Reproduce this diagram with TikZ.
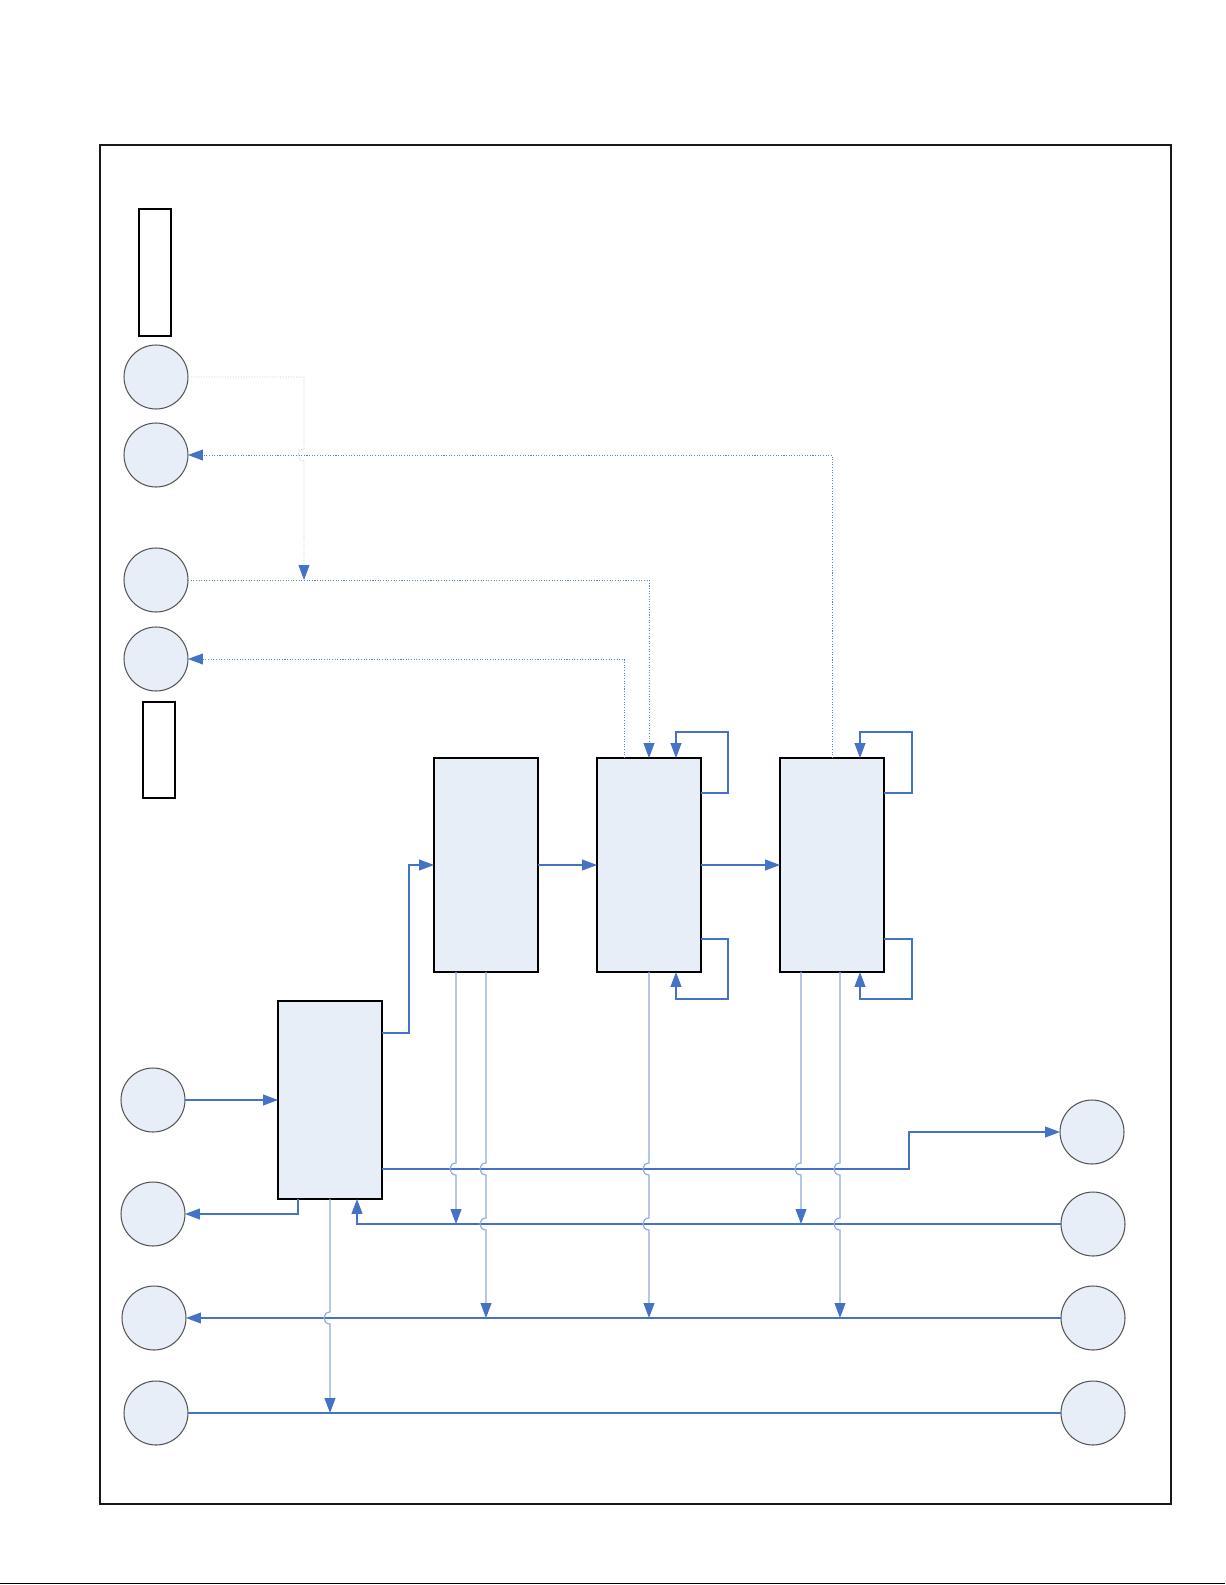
\documentclass[tikz,border=0pt]{standalone}
\usetikzlibrary{arrows.meta,calc}
\definecolor{lnblue}{HTML}{4472C4}
\definecolor{ltblue}{HTML}{8EA9DB}
\definecolor{vltblue}{HTML}{B4C7E7}
\definecolor{dotblue}{HTML}{5A82CC}
\definecolor{fillblue}{HTML}{E7EEF8}
\definecolor{cgrey}{HTML}{555555}
\begin{document}
\begin{tikzpicture}[x=0.02cm,y=-0.02cm,
  circ/.style={circle,draw=cgrey,fill=fillblue,line width=0.6pt,minimum size=1.28cm,inner sep=0pt,outer sep=0pt},
  blk/.style={rectangle,draw=black,fill=fillblue,line width=0.85pt,minimum width=2.08cm,minimum height=4.28cm,inner sep=0pt,outer sep=0pt},
  leg/.style={rectangle,draw=black,fill=white,line width=0.9pt,inner sep=0pt,minimum width=0.64cm},
  tipb/.style={-{Triangle[length=8.5pt,width=6.2pt,color=lnblue,fill=lnblue]}},
  conn/.style={draw=lnblue,line width=0.7pt},
  arr/.style={conn,tipb},
  lightarr/.style={draw=ltblue,line width=0.65pt,tipb},
  dotarr/.style={draw=dotblue,line width=0.5pt,dash pattern=on 0.6pt off 0.9pt,tipb},
  lightdotarr/.style={draw=vltblue,line width=0.5pt,dash pattern=on 0.6pt off 0.9pt,tipb},
  hop/.style={insert path={.. controls +(-8,0) and +(-8,0) .. ++(0,12)}}
]
\useasboundingbox (0,0) rectangle (1225,1585);
% outer frame and bottom rule
\node[draw=black!90,line width=0.85pt,minimum width=21.42cm,minimum height=27.18cm,inner sep=0pt] (frame) at (635.5,824.5) {};
\coordinate (bl) at (0,1583.5);
\coordinate (br) at (1225,1583.5);
\draw[line width=0.9pt] (bl) -- (br);
% legend rectangles
\node[leg,minimum height=2.54cm] (L1) at (155,272.5) {};
\node[leg,minimum height=1.92cm] (L2) at (159,750) {};
% circles
\node[circ] (c1) at (156,377) {};
\node[circ] (c2) at (156,455) {};
\node[circ] (c3) at (156,580) {};
\node[circ] (c4) at (156,659) {};
\node[circ] (c5) at (153,1100) {};
\node[circ] (c6) at (153,1214) {};
\node[circ] (c7) at (154,1318) {};
\node[circ] (c8) at (156,1413) {};
\node[circ] (c9) at (1092,1132) {};
\node[circ] (c10) at (1093,1224) {};
\node[circ] (c11) at (1093,1318) {};
\node[circ] (c12) at (1093,1413) {};
% blocks
\node[blk] (A) at (486,865) {};
\node[blk] (B) at (649,865) {};
\node[blk] (C) at (832,865) {};
\node[blk,minimum height=3.96cm] (D) at (330,1100) {};
% dotted connectors
\draw[lightdotarr] (c1.east) -- ++(116,0) -- ++(0,72) [hop] -- ++(0,119);
\draw[dotarr] (c3.east) -| (B.north);
\draw[dotarr] ($(B.north)+(-25,0)$) |- (c4.east);
\draw[dotarr] (C.north) |- (c2.east);
% solid connectors
\draw[arr] (c5.east) -- (D.west);
\draw[arr] ($(D.south west)+(20,0)$) |- (c6.east);
\draw[arr] ($(D.north east)+(0,32)$) -- ++(27,0) |- (A.west);
\draw[arr] (A.east) -- (B.west);
\draw[arr] (B.east) -- (C.west);
% loops on B
\draw[arr] ($(B.north east)+(0,35)$) -- ++(27,0) -- ++(0,-61) -- ++(-52,0) -- ++(0,26);
\draw[arr] ($(B.south east)+(0,-33)$) -- ++(27,0) -- ++(0,60) -- ++(-52,0) -- ++(0,-27);
% loops on C
\draw[arr] ($(C.north east)+(0,35)$) -- ++(28,0) -- ++(0,-61) -- ++(-52,0) -- ++(0,26);
\draw[arr] ($(C.south east)+(0,-33)$) -- ++(28,0) -- ++(0,60) -- ++(-52,0) -- ++(0,-27);
% horizontal buses
\draw[arr] ($(D.east)+(0,69)$) -- ++(527,0) |- (c9.west);
\draw[arr] (c10.west) -| ($(D.south)+(27,0)$);
\draw[arr] (c11.west) -- (c7.east);
\draw[conn] (c8.east) -- (c12.west);
% vertical taps with line hops
\draw[lightarr] (D.south) -- ++(0,113) [hop] -- ++(0,89);
\draw[lightarr] ($(A.south west)+(22,0)$) -- ++(0,191) [hop] -- ++(0,49);
\draw[lightarr] (A.south) -- ++(0,191) [hop] -- ++(0,43) [hop] -- ++(0,88);
\draw[lightarr] (B.south) -- ++(0,191) [hop] -- ++(0,43) [hop] -- ++(0,88);
\draw[lightarr] ($(C.south west)+(21,0)$) -- ++(0,191) [hop] -- ++(0,49);
\draw[lightarr] ($(C.south)+(8,0)$) -- ++(0,191) [hop] -- ++(0,43) [hop] -- ++(0,88);
\end{tikzpicture}
\end{document}
